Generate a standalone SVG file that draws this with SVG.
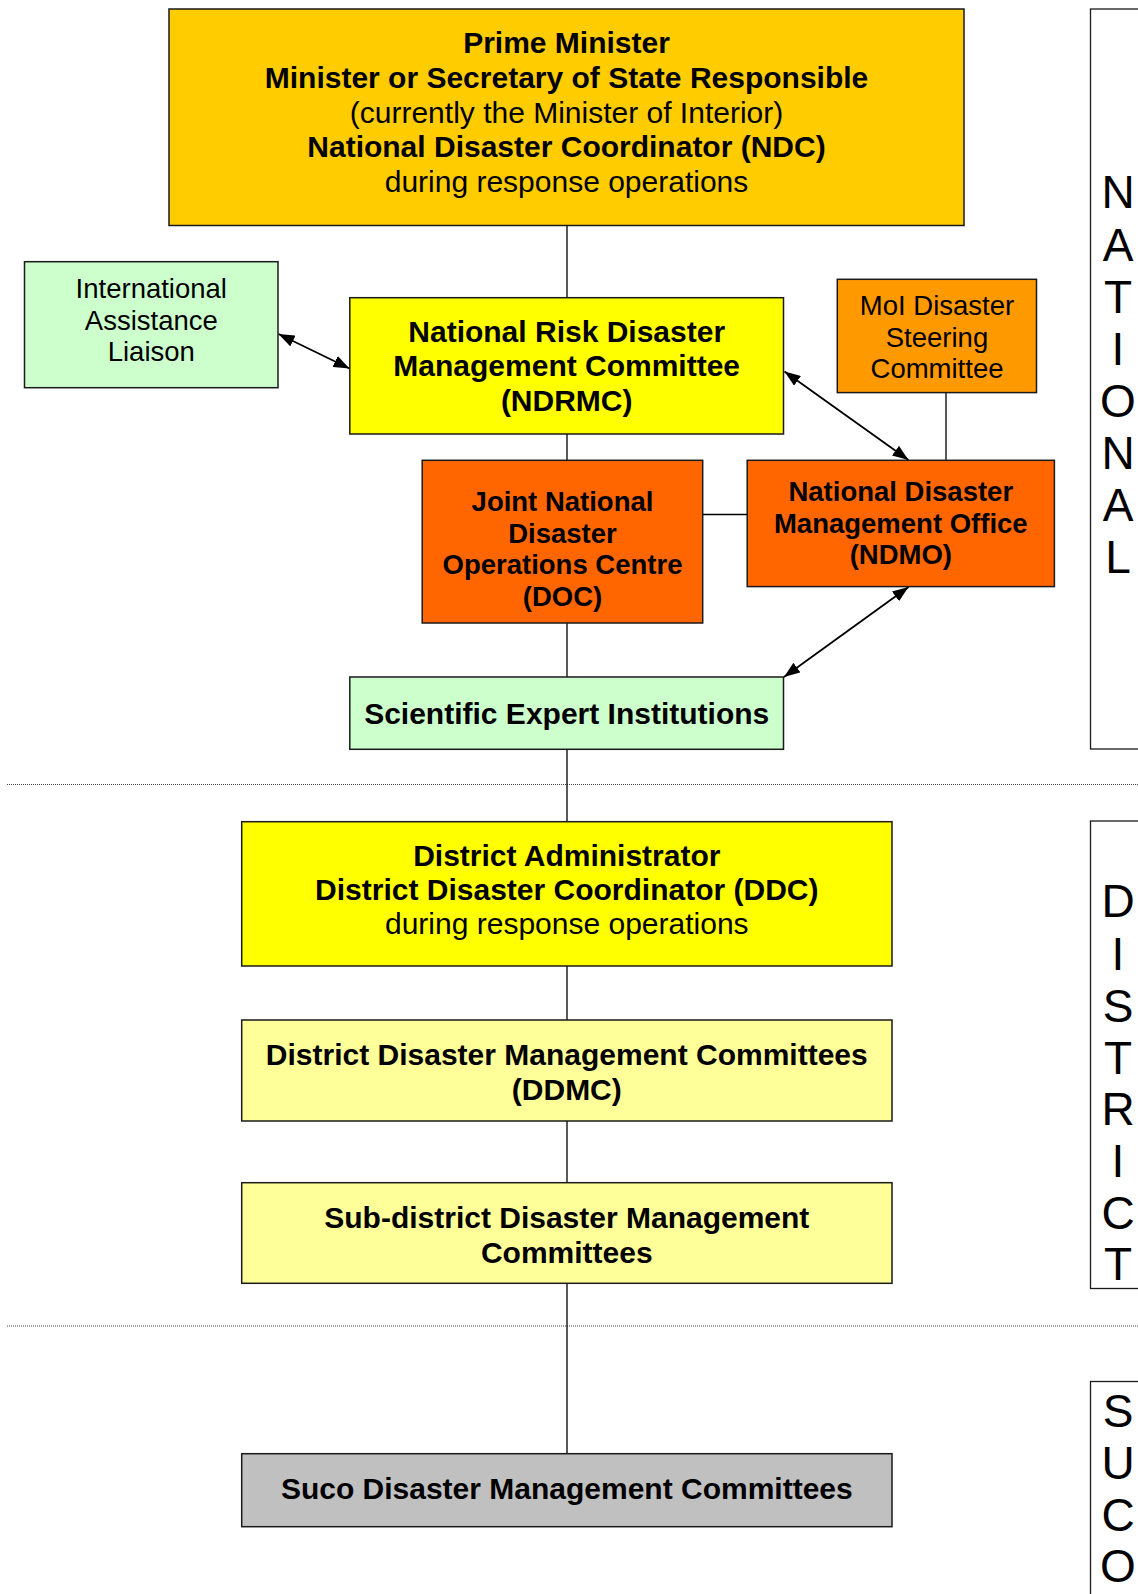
<svg xmlns="http://www.w3.org/2000/svg" width="1138" height="1594" viewBox="0 0 1138 1594">
<style>
  .box { stroke: #1a1a1a; stroke-width: 1.5; }
  .t { font-family: "Liberation Sans", Arial, sans-serif; fill: #000; text-anchor: middle; }
  .b30 { font-size: 30px; font-weight: bold; }
  .r30 { font-size: 30px; }
  .b27 { font-size: 27.5px; font-weight: bold; }
  .r27 { font-size: 27.5px; }
  .side { font-family: "Liberation Sans", Arial, sans-serif; font-size: 46px; text-anchor: middle; fill: #000; }
  .conn { stroke: #000; stroke-width: 1.3; fill: none; }
  .arr { stroke: #000; stroke-width: 1.8; fill: none; marker-start: url(#ah); marker-end: url(#ah); }
  .dots { stroke: #444; stroke-width: 1; stroke-dasharray: 1 1; fill: none; }
  .frame { fill: #fff; stroke: #1a1a1a; stroke-width: 1.3; }
</style>
<defs>
  <marker id="ah" viewBox="0 0 16 12" refX="16" refY="6" markerWidth="16" markerHeight="12" markerUnits="userSpaceOnUse" orient="auto-start-reverse">
    <path d="M0,0 L16,6 L0,12 z" fill="#000"/>
  </marker>
</defs>
<rect width="1138" height="1594" fill="#fff"/>

<g id="separators">
  <line class="dots" x1="7" y1="784.5" x2="1138" y2="784.5"/>
  <line class="dots" x1="7" y1="1326" x2="1138" y2="1326"/>
</g>

<g id="level-labels">
  <g id="label-national">
    <rect class="frame" x="1090.5" y="9" width="60" height="740"/>
    <text class="side" x="1118" y="208">N</text>
    <text class="side" x="1118" y="260.5">A</text>
    <text class="side" x="1118" y="312.5">T</text>
    <text class="side" x="1118" y="364.5">I</text>
    <text class="side" x="1118" y="416.5">O</text>
    <text class="side" x="1118" y="469">N</text>
    <text class="side" x="1118" y="521">A</text>
    <text class="side" x="1118" y="573">L</text>
  </g>
  <g id="label-district">
    <rect class="frame" x="1090.5" y="821" width="60" height="467.5"/>
    <text class="side" x="1118" y="917">D</text>
    <text class="side" x="1118" y="969.5">I</text>
    <text class="side" x="1118" y="1021.5">S</text>
    <text class="side" x="1118" y="1073.5">T</text>
    <text class="side" x="1118" y="1125">R</text>
    <text class="side" x="1118" y="1176.5">I</text>
    <text class="side" x="1118" y="1229">C</text>
    <text class="side" x="1118" y="1280">T</text>
  </g>
  <g id="label-suco">
    <rect class="frame" x="1090.5" y="1381.5" width="60" height="240"/>
    <text class="side" x="1118" y="1426.5">S</text>
    <text class="side" x="1118" y="1478.5">U</text>
    <text class="side" x="1118" y="1530.5">C</text>
    <text class="side" x="1118" y="1582">O</text>
  </g>
</g>

<g id="connectors">
  <line class="conn" x1="567" y1="225.5" x2="567" y2="297.5"/>
  <line class="conn" x1="567" y1="434" x2="567" y2="460.5"/>
  <line class="conn" x1="567" y1="623" x2="567" y2="677"/>
  <line class="conn" x1="567" y1="749.5" x2="567" y2="821.5"/>
  <line class="conn" x1="567" y1="966" x2="567" y2="1020"/>
  <line class="conn" x1="567" y1="1121" x2="567" y2="1183"/>
  <line class="conn" x1="567" y1="1283.5" x2="567" y2="1454"/>
  <line class="conn" x1="702.5" y1="514.5" x2="747" y2="514.5"/>
  <line class="conn" x1="946" y1="392.5" x2="946" y2="460.5"/>
  <line class="arr" x1="278.5" y1="334" x2="349.5" y2="368.5"/>
  <line class="arr" x1="784.5" y1="371.5" x2="908.5" y2="460"/>
  <line class="arr" x1="908.5" y1="587" x2="784" y2="677"/>
</g>

<g id="node-pm">
  <rect class="box" x="169" y="9" width="795" height="216.5" fill="#FFCC00"/>
  <text class="t b30" x="566.5" y="53.3">Prime Minister</text>
  <text class="t b30" x="566.5" y="88">Minister or Secretary of State Responsible</text>
  <text class="t r30" x="566.5" y="122.7">(currently the Minister of Interior)</text>
  <text class="t b30" x="566.5" y="157.3">National Disaster Coordinator (NDC)</text>
  <text class="t r30" x="566.5" y="192.3">during response operations</text>
</g>

<g id="node-intl">
  <rect class="box" x="24.5" y="261.7" width="253.5" height="126" fill="#CCFFCC"/>
  <text class="t r27" x="151.3" y="298.3">International</text>
  <text class="t r27" x="151.3" y="330">Assistance</text>
  <text class="t r27" x="151.3" y="361.3">Liaison</text>
</g>

<g id="node-ndrmc">
  <rect class="box" x="349.8" y="297.7" width="433.7" height="136.3" fill="#FFFF00"/>
  <text class="t b30" x="566.7" y="341.5">National Risk Disaster</text>
  <text class="t b30" x="566.7" y="376">Management Committee</text>
  <text class="t b30" x="566.7" y="410.5">(NDRMC)</text>
</g>

<g id="node-moi">
  <rect class="box" x="837.3" y="279.3" width="199.2" height="113.3" fill="#FF9900"/>
  <text class="t r27" x="937" y="315">MoI Disaster</text>
  <text class="t r27" x="937" y="346.7">Steering</text>
  <text class="t r27" x="937" y="378.3">Committee</text>
</g>

<g id="node-doc">
  <rect class="box" x="422.2" y="460.3" width="280.5" height="162.7" fill="#FF6600"/>
  <text class="t b27" x="562.5" y="511">Joint National</text>
  <text class="t b27" x="562.5" y="542.7">Disaster</text>
  <text class="t b27" x="562.5" y="574.2">Operations Centre</text>
  <text class="t b27" x="562.5" y="605.5">(DOC)</text>
</g>

<g id="node-ndmo">
  <rect class="box" x="747.2" y="460.3" width="307.2" height="126.3" fill="#FF6600"/>
  <text class="t b27" x="900.8" y="500.7">National Disaster</text>
  <text class="t b27" x="900.8" y="532.5">Management Office</text>
  <text class="t b27" x="900.8" y="564">(NDMO)</text>
</g>

<g id="node-sci">
  <rect class="box" x="349.8" y="677" width="433.7" height="72.3" fill="#CCFFCC"/>
  <text class="t b30" x="566.7" y="723.5">Scientific Expert Institutions</text>
</g>

<g id="node-da">
  <rect class="box" x="241.7" y="821.7" width="650.3" height="144.3" fill="#FFFF00"/>
  <text class="t b30" x="566.8" y="865.7">District Administrator</text>
  <text class="t b30" x="566.8" y="900">District Disaster Coordinator (DDC)</text>
  <text class="t r30" x="566.8" y="933.5">during response operations</text>
</g>

<g id="node-ddmc">
  <rect class="box" x="241.7" y="1020" width="650.3" height="101" fill="#FFFF99"/>
  <text class="t b30" x="566.8" y="1065.3">District Disaster Management Committees</text>
  <text class="t b30" x="566.8" y="1100">(DDMC)</text>
</g>

<g id="node-subdistrict">
  <rect class="box" x="241.7" y="1182.7" width="650.3" height="100.6" fill="#FFFF99"/>
  <text class="t b30" x="566.8" y="1228">Sub-district Disaster Management</text>
  <text class="t b30" x="566.8" y="1262.6">Committees</text>
</g>

<g id="node-suco">
  <rect class="box" x="241.7" y="1453.7" width="650.3" height="73" fill="#C0C0C0"/>
  <text class="t b30" x="566.8" y="1498.6">Suco Disaster Management Committees</text>
</g>
</svg>
